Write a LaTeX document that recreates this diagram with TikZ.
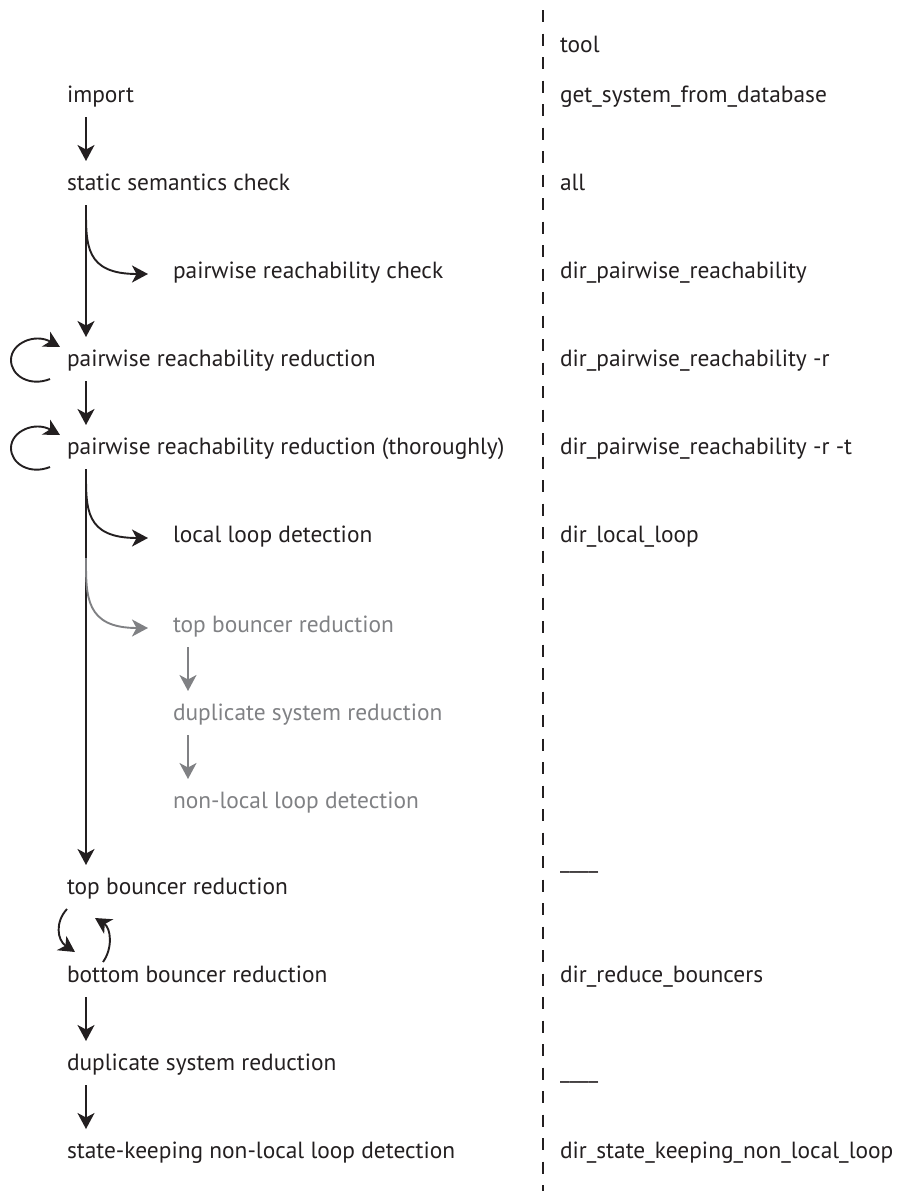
\documentclass[tikz,border=0pt]{standalone}
\usepackage{fontspec}
\setmainfont{PT Sans}
\usetikzlibrary{arrows.meta,calc}
\definecolor{ink}{HTML}{231F20}
\definecolor{faint}{HTML}{808184}

\begin{document}
\begin{tikzpicture}[x=1pt,y=-1pt,
  every node/.style={inner sep=0pt, outer sep=0pt, anchor=base west,
    font=\fontsize{23.4}{27}\selectfont, text=ink},
  ghost/.style={text=faint},
  tip/.style={-{Stealth[length=16pt,width=17pt,inset=4.5pt]}},
  flow/.style={tip, draw=ink, line width=1.9pt},
  faintflow/.style={tip, draw=faint, line width=1.9pt},
  divider/.style={draw=ink, line width=1.8pt, dash pattern=on 12pt off 11.5pt},
]
\useasboundingbox (0,0) rectangle (909,1191);

% left column: processing stages
\node (import)  at (67,102)  {import};
\node (static)  at (67,190)  {static semantics check};
\node (check)   at (173,278) {pairwise reachability check};
\node (red)     at (67,366)  {pairwise reachability reduction};
\node (thor)    at (67,454)  {pairwise reachability reduction (thoroughly)};
\node (local)   at (173,542) {local loop detection};
\node[ghost] (gtop) at (173,632) {top bouncer reduction};
\node[ghost] (gdup) at (173,720) {duplicate system reduction};
\node[ghost] (gnl)  at (173,808) {non-local loop detection};
\node (top)     at (67,894)  {top bouncer reduction};
\node (bottom)  at (67,982)  {bottom bouncer reduction};
\node (dup)     at (67,1070) {duplicate system reduction};
\node (state)   at (67,1158) {state-keeping non-local loop detection};

% right column: tools
\node (tool)   at (560,52)   {tool};
\node (tget)   at (560,102)  {get\_system\_from\_database};
\node (tall)   at (560,190)  {all};
\node (tpair)  at (560,278)  {dir\_pairwise\_reachability};
\node (tpr)    at (560,366)  {dir\_pairwise\_reachability -r};
\node (tprt)   at (560,454)  {dir\_pairwise\_reachability -r -t};
\node (tloc)   at (560,542)  {dir\_local\_loop};
\node (tnone1) at (560,868)  {\_\_\_\_};
\node (tbnc)   at (560,982)  {dir\_reduce\_bouncers};
\node (tnone2) at (560,1078) {\_\_\_\_};
\node (tskl)   at (560,1158) {dir\_state\_keeping\_non\_local\_loop};

% separator between the two columns
\coordinate (ruletop) at (543,10);
\coordinate (rulebot) at (543,1191);
\draw[divider] (ruletop) -- (rulebot);

% main sequence
\draw[flow] ($(import.base west)+(19,15)$) -- ($(static.base west)+(19,-29)$);
\draw[flow] ($(static.base west)+(19,15)$) -- ($(red.base west)+(19,-29)$);
\draw[flow] ($(red.base west)+(19,15)$) -- ($(thor.base west)+(19,-29)$);
\draw[flow] ($(thor.base west)+(19,15)$) -- ($(top.base west)+(19,-29)$);
\draw[flow] ($(bottom.base west)+(19,15)$) -- ($(dup.base west)+(19,-29)$);
\draw[flow] ($(dup.base west)+(19,15)$) -- ($(state.base west)+(19,-29)$);

% side branches
\draw[flow] ($(static.base west)+(19,17)$)
  .. controls ($(static.base west)+(19,55)$) and ($(check.base west)+(-88,-4)$)
  .. ($(check.base west)+(-25,-4)$);
\draw[flow] ($(thor.base west)+(19,17)$)
  .. controls ($(thor.base west)+(19,55)$) and ($(local.base west)+(-88,-4)$)
  .. ($(local.base west)+(-25,-4)$);
\draw[faintflow] ($(thor.base west)+(19,104)$)
  .. controls ($(thor.base west)+(19,142)$) and ($(gtop.base west)+(-88,-4)$)
  .. ($(gtop.base west)+(-25,-4)$);

% alternative sequence
\draw[faintflow] ($(gtop.base west)+(15,15)$) -- ($(gdup.base west)+(15,-29)$);
\draw[faintflow] ($(gdup.base west)+(15,15)$) -- ($(gnl.base west)+(15,-29)$);

% repetition loops
\draw[flow] ($(red.base west)+(-17,13)$)
  .. controls ($(red.base west)+(-37,21)$) and ($(red.base west)+(-56,10)$)
  .. ($(red.base west)+(-56,-6)$)
  .. controls ($(red.base west)+(-56,-23)$) and ($(red.base west)+(-32,-33)$)
  .. ($(red.base west)+(-7,-19)$);
\draw[flow] ($(thor.base west)+(-17,13)$)
  .. controls ($(thor.base west)+(-37,21)$) and ($(thor.base west)+(-56,10)$)
  .. ($(thor.base west)+(-56,-6)$)
  .. controls ($(thor.base west)+(-56,-23)$) and ($(thor.base west)+(-32,-33)$)
  .. ($(thor.base west)+(-7,-19)$);

% alternation between top and bottom bouncer reduction
\draw[flow] ($(top.base west)+(0,15)$)
  .. controls ($(top.base west)+(-12,28)$) and ($(bottom.base west)+(-10,-42)$)
  .. ($(bottom.base west)+(8,-30)$);
\draw[flow] ($(bottom.base west)+(36,-20)$)
  .. controls ($(bottom.base west)+(46,-34)$) and ($(top.base west)+(44,34)$)
  .. ($(top.base west)+(28,24)$);
\end{tikzpicture}
\end{document}
